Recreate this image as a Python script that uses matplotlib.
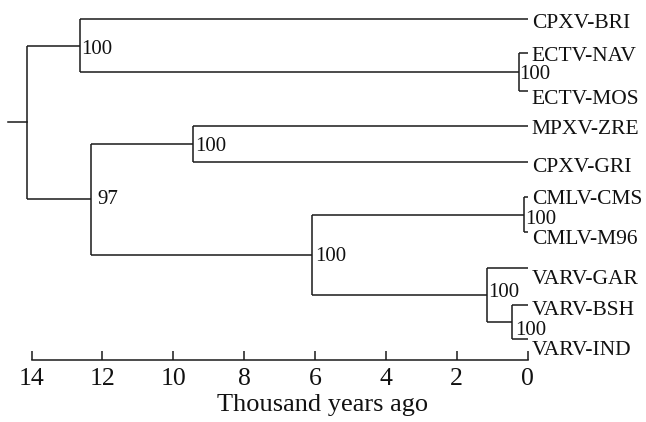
import matplotlib
matplotlib.use('Agg')
import matplotlib.pyplot as plt

plt.rcParams['font.family'] = ['Liberation Serif', 'DejaVu Serif']

# tips of the tree, top to bottom
tips = ['CPXV-BRI', 'ECTV-NAV', 'ECTV-MOS', 'MPXV-ZRE', 'CPXV-GRI',
        'CMLV-CMS', 'CMLV-M96', 'VARV-GAR', 'VARV-BSH', 'VARV-IND']
tip_y = [19.3, 52.7, 90.7, 126, 161.7, 197.3, 232.3, 268.3, 305, 339]

# internal nodes: age (thousand years ago), children, bootstrap support
node_names = ['root', 'A', 'ECTV', 'B', 'MG', 'C', 'CMLV', 'VARV', 'BI']
node_age = [14.13, 12.63, 0.245, 12.31, 9.44, 6.08, 0.10, 1.16, 0.45]
node_children = [['A', 'B'],
                 ['CPXV-BRI', 'ECTV'],
                 ['ECTV-NAV', 'ECTV-MOS'],
                 ['MG', 'C'],
                 ['MPXV-ZRE', 'CPXV-GRI'],
                 ['CMLV', 'VARV'],
                 ['CMLV-CMS', 'CMLV-M96'],
                 ['VARV-GAR', 'BI'],
                 ['VARV-BSH', 'VARV-IND']]
node_support = ['', '100', '100', '97', '100', '100', '100', '100', '100']
root_stub = 14.66

x_ticks = [14, 12, 10, 8, 6, 4, 2, 0]

# label nudges in pixels (visual centre relative to the branch)
tip_dy = [1.4, 1, 6, 1, 3.3, -0.6, 4.4, 8.4, 3, 8.7]
sup_dx = [0, 1, 0, 6, 2, 2.7, 1, 2, 3]
sup_dy = [0, 2, 0.8, -2.4, 0, -1, 2.2, -5, 6]

age = {t: 0.0 for t in tips}
ypos = dict(zip(tips, tip_y))
kids = dict(zip(node_names, node_children))
for n, a in zip(node_names, node_age):
    age[n] = a

def get_y(n):
    if n not in ypos:
        ypos[n] = sum(get_y(c) for c in kids[n]) / len(kids[n])
    return ypos[n]

get_y('root')

fig = plt.figure(figsize=(6.46, 4.22), dpi=100)
ax = fig.add_axes([0, 62 / 422, 1, 360 / 422])
lc = '#1a1a1a'
lw = 1.1
px = 0.72  # points per pixel at 100 dpi

for n in node_names:
    ys = [ypos[c] for c in kids[n]]
    ax.plot([age[n], age[n]], [min(ys), max(ys)], color=lc, lw=lw, solid_capstyle='butt')
    for c in kids[n]:
        ax.plot([age[n], age[c]], [ypos[c], ypos[c]], color=lc, lw=lw, solid_capstyle='butt')

ax.plot([root_stub, age['root']], [ypos['root'], ypos['root']], color=lc, lw=lw)

tip_fs = 15.5
for t, dy in zip(tips, tip_dy):
    base = dy + 0.331 * tip_fs / px
    ax.annotate(t, (0, ypos[t]), xytext=(3.0, -base * px), textcoords='offset points',
                ha='left', va='baseline', fontsize=tip_fs, color='#111111')

sup_fs = 15
for n, s, dx, dy in zip(node_names, node_support, sup_dx, sup_dy):
    if s:
        base = dy + 0.331 * sup_fs / px
        ax.annotate(s, (age[n], ypos[n]), xytext=(dx * px, -base * px),
                    textcoords='offset points', ha='left', va='baseline',
                    fontsize=sup_fs, color='#111111')

ax.set_xlim(14.889, -3.34)
ax.set_ylim(360, 0)
for sp in ['top', 'left', 'right']:
    ax.spines[sp].set_visible(False)
ax.spines['bottom'].set_bounds(0, 14)
ax.spines['bottom'].set_linewidth(lw)
ax.spines['bottom'].set_color(lc)
ax.set_yticks([])
ax.set_xticks(x_ticks)
ax.set_xticklabels([str(v) for v in x_ticks])
ax.tick_params(axis='x', direction='in', length=6.5, width=lw, color=lc,
               labelsize=18.5, pad=6, labelcolor='#111111')
ax.set_xlabel('Thousand years ago', fontsize=19, labelpad=3, color='#111111')
ax.patch.set_visible(False)

fig.savefig('out.png', dpi=100)
